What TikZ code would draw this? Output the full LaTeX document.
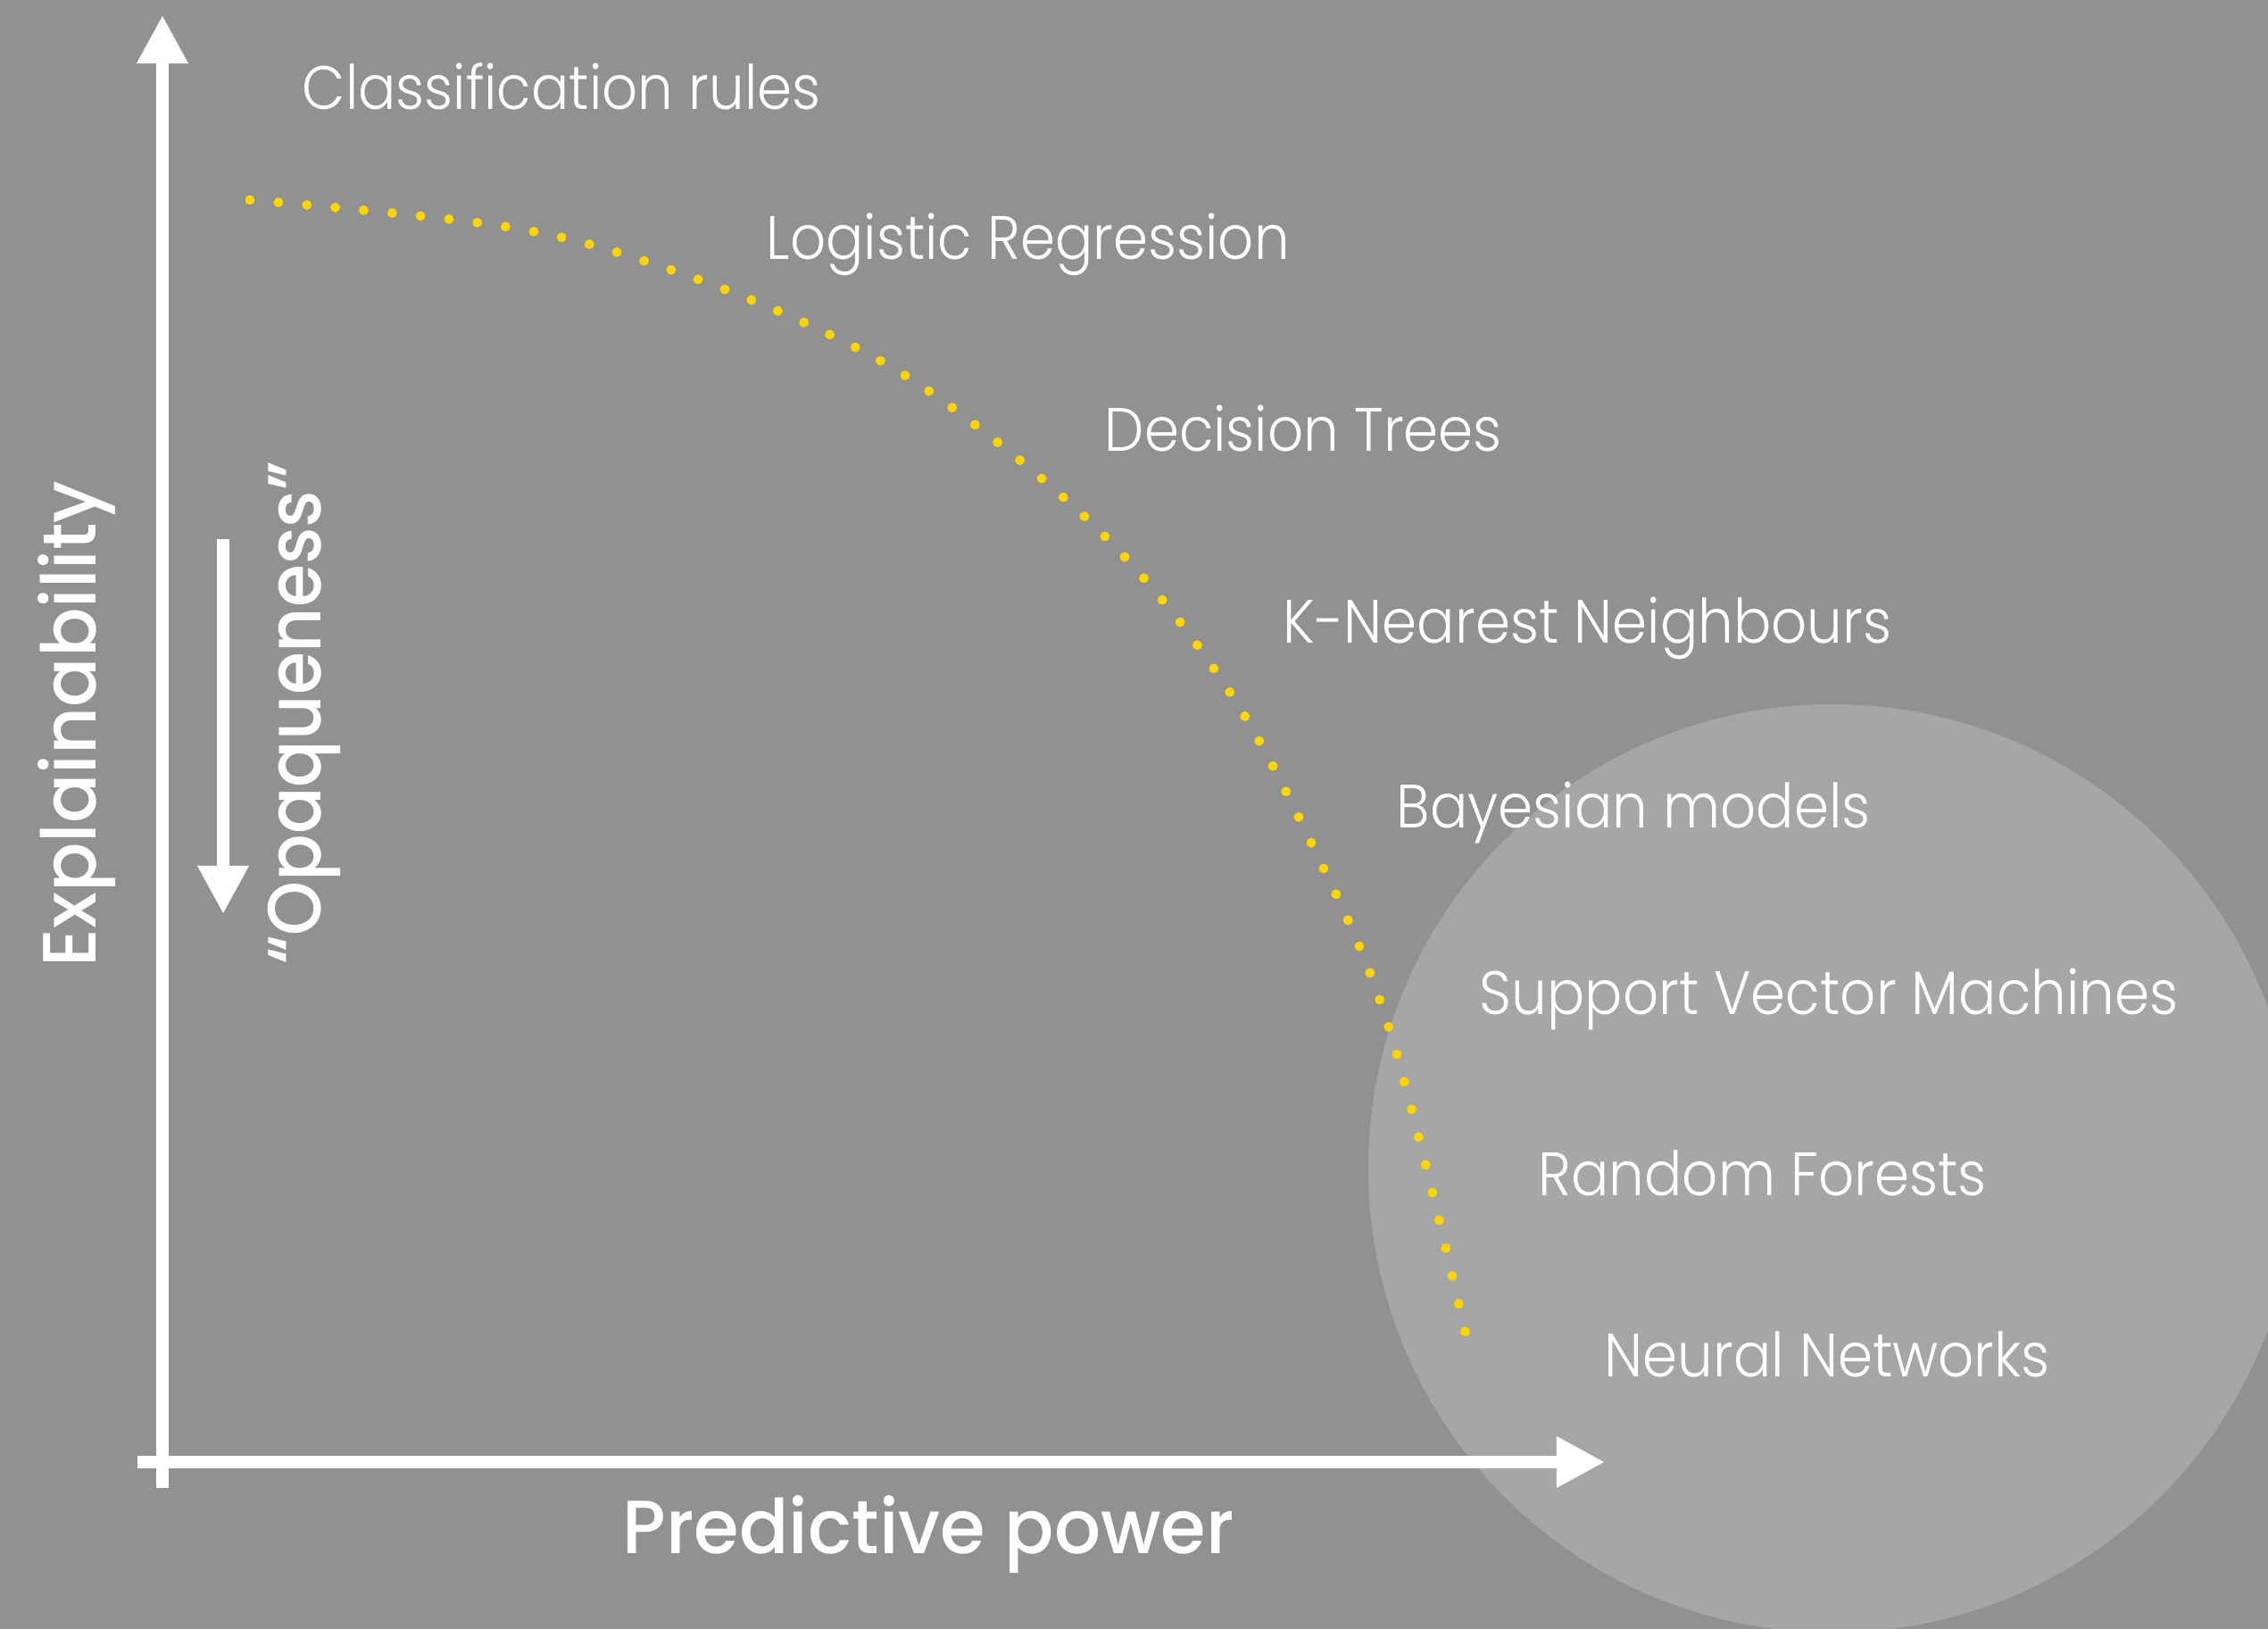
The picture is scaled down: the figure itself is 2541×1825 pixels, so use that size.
\documentclass[tikz,border=0pt]{standalone}
\usepackage{fontspec}
\usetikzlibrary{arrows.meta}
\newfontfamily\modelfont{Poppins Light}[FakeStretch=0.915]
\newfontfamily\axisfont{Poppins Medium}[FakeStretch=0.97]
\newfontfamily\quotefont{Poppins Medium}[FakeStretch=0.92]
\definecolor{bggray}{HTML}{919191}
\definecolor{blobgray}{HTML}{A6A6A6}
\definecolor{trendyellow}{HTML}{FFD500}
\tikzset{axis/.style = {white, line width=3.7pt,
                        -{Triangle[length=15.4pt, width=15.4pt]}}}
\tikzset{model/.style = {anchor=base west, inner sep=0, text=white,
                         font=\modelfont\fontsize{19.5}{20}\selectfont}}
\tikzset{axislabel/.style = {inner sep=0, text=white,
                             font=\axisfont\fontsize{24}{26}\selectfont}}
\tikzset{trend/.style = {trendyellow, line width=3.1pt, line cap=round,
                         dash pattern=on 0pt off 9.1pt}}

\begin{document}
\begin{tikzpicture}[x=0.01cm, y=-0.01cm]
  \fill[bggray] (0,0) rectangle (2541,1825);
  \useasboundingbox (0,0) rectangle (2541,1825);
  % high predictive power region
  \begin{scope}
    \clip (0,0) rectangle (2541,1825);
    \fill[blobgray] (2053,1309) circle (520);
  \end{scope}
  % axes
  \coordinate (ybottom) at (182,1667);
  \coordinate (ytip) at (182,17);
  \coordinate (xleft) at (154,1638);
  \coordinate (xtip) at (1798,1638);
  \draw[axis] (ybottom) -- (ytip);
  \draw[axis] (xleft) -- (xtip);
  \coordinate (optop) at (250,604);
  \coordinate (optip) at (250,1024);
  \draw[axis] (optop) -- (optip);
  \node[axislabel, rotate=90, anchor=base] (explain) at (107,811) {Explainability};
  \node[axislabel, rotate=90, anchor=base, font=\quotefont\fontsize{24}{26}\selectfont]
    (opaque) at (359,799) {“Opaqueness”};
  \node[axislabel, anchor=base west] (power) at (697,1740) {Predictive power};
  % trade-off curve
  \draw[trend] plot[smooth, tension=0.6] coordinates {(280,224) (567,254)
    (745,300) (932,376) (1070,459) (1240,603) (1369,762) (1467,940)
    (1556,1151) (1642,1494)};
  % models
  \node[model] (rules) at (338,123) {Classification rules};
  \node[model] (logreg) at (858,291) {Logistic Regression};
  \node[model] (trees) at (1237,506) {Decision Trees};
  \node[model] (knn) at (1437,721) {K-Nearest Neighbours};
  \node[model] (bayes) at (1564,928) {Bayesian models};
  \node[model] (svm) at (1657,1137) {Support Vector Machines};
  \node[model] (forest) at (1723,1340) {Random Forests};
  \node[model] (nn) at (1797,1542) {Neural Networks};
\end{tikzpicture}
\end{document}
